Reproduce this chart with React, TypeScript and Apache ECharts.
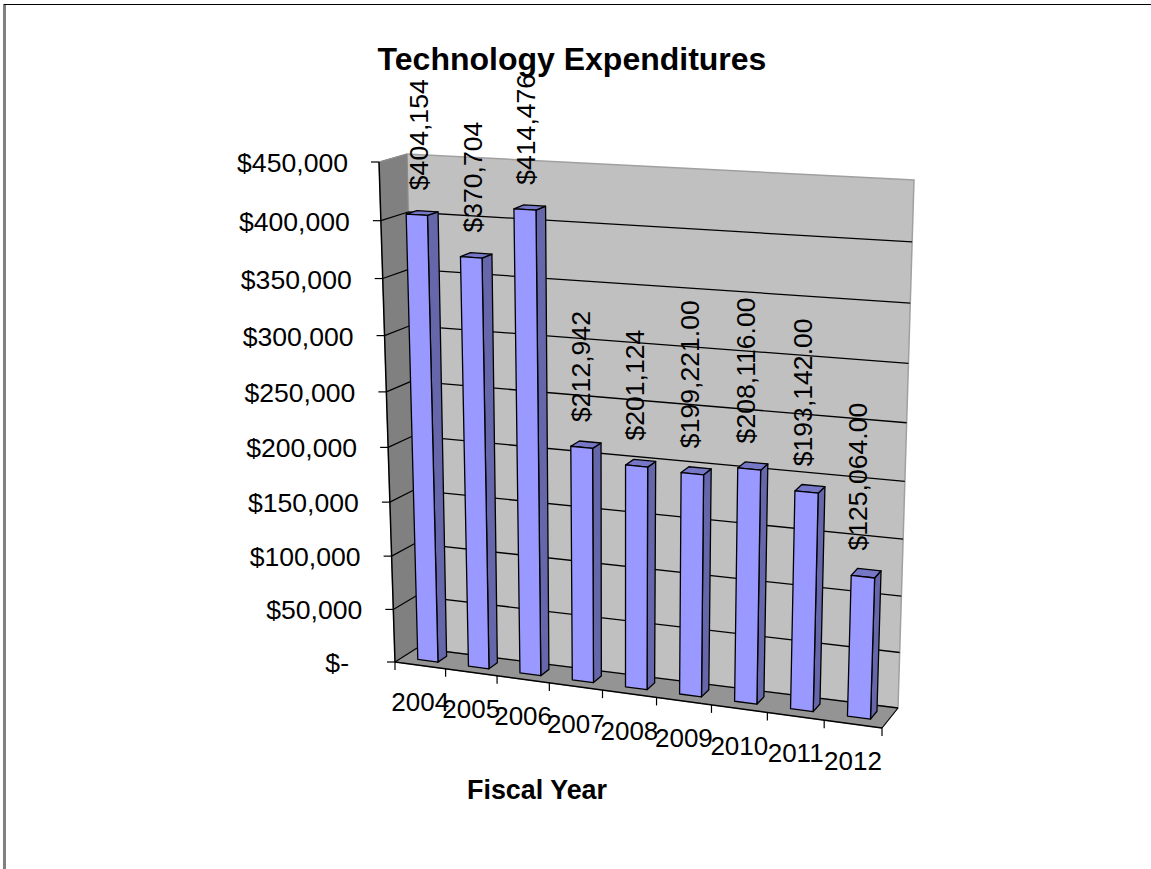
import React, { useEffect, useRef } from "react";
import * as echarts from "echarts";

const years = ["2004", "2005", "2006", "2007", "2008", "2009", "2010", "2011", "2012"];
const expenditures = [404154, 370704, 414476, 212942, 201124, 199221, 208116, 193142, 125064];
const valueLabels = ["$404,154", "$370,704", "$414,476", "$212,942", "$201,124", "$199,221.00", "$208,116.00", "$193,142.00", "$125,064.00"];
const yTicks = [0, 50000, 100000, 150000, 200000, 250000, 300000, 350000, 400000, 450000];
const yTickLabels = ["$-", "$50,000", "$100,000", "$150,000", "$200,000", "$250,000", "$300,000", "$350,000", "$400,000", "$450,000"];

const FONT = '"Liberation Sans", Arial, sans-serif';
const GRID = { left: 379, top: 162, width: 503, height: 500 };

// Perspective box: [depth][top][right] screen corners
const corners = {
  fbl: [395, 662], fbr: [882, 728], ftl: [379, 162], ftr: [899, 193],
  bbl: [417, 648], bbr: [898, 708], btl: [407, 154], btr: [914, 180],
};
const warp = (t: number, w: number) => (t * w) / (1 - t + t * w);
const lerp = (a: number, b: number, t: number) => a + (b - a) * t;
function project(u: number, v: number, d: number): number[] {
  const U = warp(u, 0.928);
  const V = warp(v, 0.94);
  const c = corners;
  return [0, 1].map((k) => {
    const fb = lerp(c.fbl[k], c.fbr[k], U);
    const ft = lerp(c.ftl[k], c.ftr[k], U);
    const bb = lerp(c.bbl[k], c.bbr[k], U);
    const bt = lerp(c.btl[k], c.btr[k], U);
    return lerp(lerp(fb, ft, V), lerp(bb, bt, V), d);
  });
}
const normU = (px: number, cs: any) => (px - cs.x) / cs.width;
const normV = (py: number, cs: any) => (cs.y + cs.height - py) / cs.height;

const EDGE = { stroke: "#000", lineWidth: 1.3, lineJoin: "round" };
const poly = (points: number[][], style: any) => ({ type: "polygon", shape: { points }, style });
const seg = (a: number[], b: number[], stroke: string, lineWidth = 1) => ({
  type: "line",
  shape: { x1: a[0], y1: a[1], x2: b[0], y2: b[1] },
  style: { stroke, lineWidth },
});
const label = (text: string, x: number, y: number, align: string, size: number, rotation = 0) => ({
  type: "text",
  x,
  y,
  rotation,
  style: { text, fontSize: size, fontFamily: FONT, fill: "#000", align, verticalAlign: "middle" },
});

const renderWalls = (params: any) => {
  const P = project;
  return {
    type: "group",
    children: [
      poly([P(0, 0, 1), P(1, 0, 1), P(1, 1, 1), P(0, 1, 1)], { fill: "#C0C0C0", stroke: "#a0a0a0", lineWidth: 1.5 }),
      poly([P(0, 0, 0), P(0, 0, 1), P(0, 1, 1), P(0, 1, 0)], { fill: "#808080", stroke: "#8a8a8a", lineWidth: 1 }),
      poly([P(0, 0, 0), P(1, 0, 0), P(1, 0, 1), P(0, 0, 1)], { fill: "#949494", stroke: "#8a8a8a", lineWidth: 1 }),
    ],
  };
};

const renderYAxis = (params: any, api: any) => {
  const cs = params.coordSys;
  const value = api.value(1);
  const v = normV(api.coord([0, value])[1], cs);
  const front = project(0, v, 0);
  const back = project(0, v, 1);
  const right = project(1, v, 1);
  const offset = value === 0 ? 46 : 31;
  const isTop = value === yTicks[yTicks.length - 1];
  const children: any[] = [
    seg(back, front, isTop ? "#8a8a8a" : "#000", 1.2),
    seg(front, [front[0] - 8, front[1]], "#000", 1.2),
    label(yTickLabels[params.dataIndex], front[0] - offset, front[1] + 1, "right", 26.6),
  ];
  if (!isTop) children.unshift(seg(right, back, "#000", 1.3));
  return { type: "group", children };
};

const renderXAxis = (params: any, api: any) => {
  const cs = params.coordSys;
  const band = api.size([1, 0])[0];
  const center = api.coord([api.value(0), 0])[0];
  const tick = (px: number) => {
    const p = project(normU(px, cs), 0, 0);
    return seg(p, [p[0], p[1] + 8], "#000", 1.2);
  };
  const mid = project(normU(center, cs), 0, 0);
  const children: any[] = [tick(center - band / 2), label(years[params.dataIndex], mid[0], mid[1] + 37, "center", 26)];
  if (params.dataIndex === years.length - 1) {
    children.push(tick(center + band / 2));
    children.push(seg(project(0, 0, 0), project(1, 0, 0), "#000", 1.5));
    children.push(seg(project(1, 0, 0), project(1, 0, 1), "#000", 1.2));
    children.push(seg(project(0, 0, 0), project(0, 1, 0), "#000", 1.5));
  }
  return { type: "group", children };
};

const D0 = 0.33;
const D1 = 0.73;
const renderBar = (params: any, api: any) => {
  const cs = params.coordSys;
  const band = api.size([1, 0])[0];
  const pt = api.coord([api.value(0), api.value(1)]);
  const left = normU(pt[0] - band * 0.19, cs);
  const right = normU(pt[0] + band * 0.21, cs);
  const v = normV(pt[1], cs);
  const P = project;
  return {
    type: "group",
    children: [
      poly([P(right, 0, D0), P(right, 0, D1), P(right, v, D1), P(right, v, D0)], { fill: "#6666AA", ...EDGE }),
      poly([P(left, v, D0), P(right, v, D0), P(right, v, D1), P(left, v, D1)], { fill: "#7777C8", ...EDGE }),
      poly([P(left, 0, D0), P(right, 0, D0), P(right, v, D0), P(left, v, D0)], { fill: "#9999FF", ...EDGE }),
    ],
  };
};

const renderBarLabel = (params: any, api: any) => {
  const cs = params.coordSys;
  const pt = api.coord([api.value(0), api.value(1)]);
  const u = normU(pt[0], cs);
  const v = normV(pt[1], cs);
  const top = project(u, v, 0.5);
  return label(valueLabels[params.dataIndex], top[0] - 6 * u - 1, top[1] - 23, "left", 26.6, Math.PI / 2);
};

export default function App() {
  const ref = useRef<HTMLDivElement>(null);
  useEffect(() => {
    document.body.style.margin = "0";
    const chart = echarts.init(ref.current!, null, { renderer: "svg" });
    const barData = expenditures.map((v, i) => [i, v]);
    chart.setOption({
      animation: false,
      backgroundColor: "#fff",
      title: [
        {
          text: "Technology Expenditures",
          left: 567,
          top: 38,
          textAlign: "center",
          textStyle: { fontFamily: FONT, fontSize: 32, fontWeight: "bold", color: "#000" },
        },
        {
          text: "Fiscal Year",
          left: 532,
          top: 771,
          textAlign: "center",
          textStyle: { fontFamily: FONT, fontSize: 26.9, fontWeight: "bold", color: "#000" },
        },
      ],
      grid: GRID,
      xAxis: { type: "category", data: years, show: false },
      yAxis: { type: "value", min: 0, max: 450000, interval: 50000, show: false },
      series: [
        { type: "custom", data: [[0, 0]], renderItem: renderWalls, silent: true, clip: false, z: 1 },
        { type: "custom", data: yTicks.map((t) => [0, t]), renderItem: renderYAxis, silent: true, clip: false, z: 2 },
        { type: "custom", data: years.map((_, i) => [i, 0]), renderItem: renderXAxis, silent: true, clip: false, z: 3 },
        { type: "custom", data: barData, renderItem: renderBar, silent: true, clip: false, z: 4 },
        { type: "custom", data: barData, renderItem: renderBarLabel, silent: true, clip: false, z: 5 },
      ],
      graphic: [
        { type: "rect", shape: { x: 3, y: 4, width: 3, height: 865 }, style: { fill: "#808080" }, z: 10 },
        { type: "rect", shape: { x: 4, y: 4, width: 1147, height: 1 }, style: { fill: "#000" }, z: 11 },
      ],
    });
    return () => chart.dispose();
  }, []);
  return <div ref={ref} style={{ position: "absolute", left: 0, top: 0, width: 1151, height: 869 }} />;
}
